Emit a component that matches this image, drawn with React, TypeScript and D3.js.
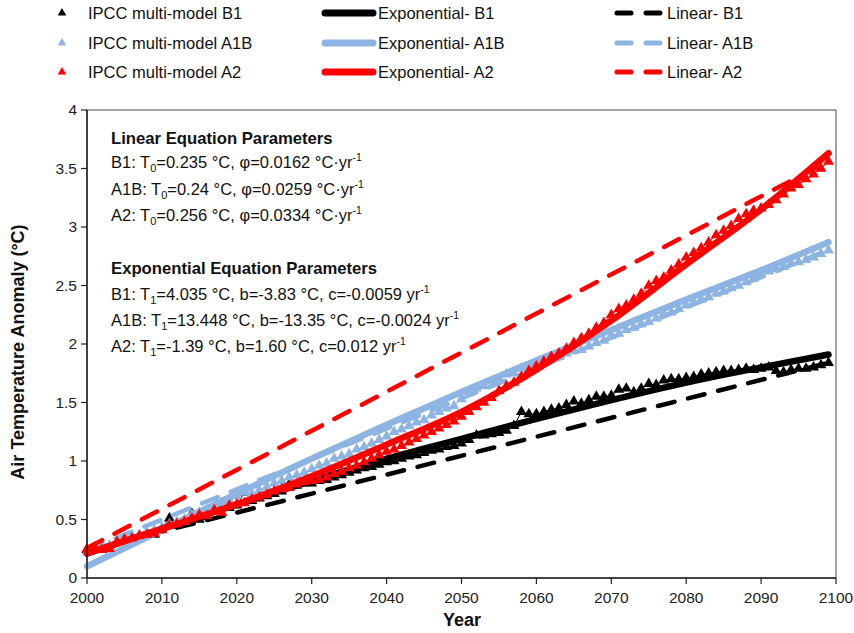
import React from "react";
import * as d3 from "d3";

// yearly multi-model means, 2000-2099
const years = d3.range(2000, 2100);

const b1Obs = [
  0.24, 0.26, 0.25, 0.27, 0.31, 0.34, 0.33, 0.36, 0.38, 0.37,
  0.42, 0.51, 0.45, 0.47, 0.55, 0.50, 0.52, 0.58, 0.64, 0.60,
  0.62, 0.73, 0.66, 0.68, 0.70, 0.72, 0.74, 0.80, 0.79, 0.81,
  0.81, 0.83, 0.84, 0.86, 0.88, 0.90, 0.92, 0.94, 0.95, 0.97,
  0.99, 1.00, 1.02, 1.04, 1.05, 1.07, 1.09, 1.10, 1.12, 1.13,
  1.15, 1.18, 1.22, 1.22, 1.23, 1.24, 1.26, 1.30, 1.42, 1.40,
  1.40, 1.42, 1.44, 1.45, 1.48, 1.51, 1.49, 1.52, 1.55, 1.55,
  1.56, 1.61, 1.62, 1.59, 1.62, 1.66, 1.65, 1.69, 1.70, 1.70,
  1.71, 1.72, 1.74, 1.75, 1.76, 1.77, 1.77, 1.78, 1.79, 1.78,
  1.79, 1.80, 1.77, 1.76, 1.78, 1.79, 1.79, 1.80, 1.82, 1.84,
];

const a1bObs = [
  0.22, 0.24, 0.26, 0.27, 0.30, 0.33, 0.35, 0.37, 0.39, 0.41,
  0.43, 0.46, 0.48, 0.50, 0.54, 0.56, 0.58, 0.62, 0.64, 0.66,
  0.70, 0.73, 0.72, 0.75, 0.78, 0.81, 0.83, 0.86, 0.88, 0.90,
  0.93, 0.96, 0.98, 1.02, 1.04, 1.06, 1.10, 1.12, 1.15, 1.18,
  1.21, 1.25, 1.27, 1.30, 1.33, 1.35, 1.39, 1.42, 1.45, 1.47,
  1.53, 1.58, 1.62, 1.64, 1.68, 1.70, 1.74, 1.75, 1.79, 1.81,
  1.84, 1.85, 1.88, 1.89, 1.92, 1.94, 1.95, 1.98, 2.01, 2.03,
  2.07, 2.09, 2.12, 2.14, 2.17, 2.19, 2.22, 2.26, 2.27, 2.30,
  2.33, 2.36, 2.38, 2.40, 2.43, 2.45, 2.48, 2.50, 2.53, 2.56,
  2.60, 2.62, 2.64, 2.66, 2.69, 2.70, 2.72, 2.74, 2.77, 2.80,
];

const a2Obs = [
  0.25, 0.26, 0.24, 0.25, 0.31, 0.33, 0.34, 0.36, 0.37, 0.38,
  0.41, 0.45, 0.46, 0.48, 0.51, 0.54, 0.53, 0.58, 0.56, 0.62,
  0.63, 0.64, 0.67, 0.69, 0.71, 0.74, 0.76, 0.77, 0.80, 0.82,
  0.83, 0.84, 0.86, 0.89, 0.91, 0.94, 0.96, 0.99, 1.02, 1.05,
  1.08, 1.10, 1.13, 1.16, 1.19, 1.22, 1.25, 1.28, 1.31, 1.34,
  1.38, 1.42, 1.46, 1.50, 1.54, 1.60, 1.64, 1.67, 1.72, 1.77,
  1.81, 1.85, 1.89, 1.92, 1.96, 2.01, 2.05, 2.09, 2.14, 2.18,
  2.25, 2.30, 2.33, 2.38, 2.43, 2.50, 2.54, 2.57, 2.63, 2.68,
  2.74, 2.78, 2.82, 2.87, 2.93, 2.97, 3.01, 3.07, 3.11, 3.14,
  3.16, 3.19, 3.23, 3.28, 3.33, 3.36, 3.41, 3.45, 3.50, 3.56,
];

// fitted curves
const fitYears = [2000, 2010, 2020, 2030, 2040, 2050, 2060, 2070, 2080, 2090, 2099];
const b1Exp = [0.21, 0.42, 0.63, 0.83, 1.02, 1.19, 1.36, 1.52, 1.67, 1.8, 1.91];
const a1bExp = [0.1, 0.41, 0.72, 1.02, 1.31, 1.59, 1.86, 2.12, 2.38, 2.63, 2.87];
const a2Exp = [0.21, 0.42, 0.63, 0.87, 1.14, 1.42, 1.78, 2.2, 2.68, 3.15, 3.63];

const linYears = [2000, 2099];
const b1Lin = [0.235, 1.839];
const a1bLin = [0.24, 2.804];
const a2Lin = [0.256, 3.563];

const xTicks = d3.range(2000, 2101, 10);
const yTicks = [0, 0.5, 1, 1.5, 2, 2.5, 3, 3.5, 4];

const series = [
  {name: "B1", color: "#000000", obs: b1Obs, exp: b1Exp, lin: b1Lin},
  {name: "A1B", color: "#8db4e2", obs: a1bObs, exp: a1bExp, lin: a1bLin},
  {name: "A2", color: "#ff0000", obs: a2Obs, exp: a2Exp, lin: a2Lin},
];

const linearRows = [
  {label: "B1", sub: "0", rest: "=0.235 °C, φ=0.0162 °C·yr"},
  {label: "A1B", sub: "0", rest: "=0.24 °C, φ=0.0259 °C·yr"},
  {label: "A2", sub: "0", rest: "=0.256 °C, φ=0.0334 °C·yr"},
];
const expRows = [
  {label: "B1", sub: "1", rest: "=4.035 °C, b=-3.83 °C, c=-0.0059 yr"},
  {label: "A1B", sub: "1", rest: "=13.448 °C, b=-13.35 °C, c=-0.0024 yr"},
  {label: "A2", sub: "1", rest: "=-1.39 °C, b=1.60 °C, c=0.012 yr"},
];

const W = 854;
const H = 633;
const FONT = "'Liberation Sans', Arial, sans-serif";

const x = d3.scaleLinear().domain([2000, 2100]).range([87, 836]);
const y = d3.scaleLinear().domain([0, 4]).range([578, 110]);

const lineGen = d3.line<[number, number]>().x(d => x(d[0])).y(d => y(d[1]));
const curveGen = d3.line<[number, number]>().x(d => x(d[0])).y(d => y(d[1])).curve(d3.curveMonotoneX);
const tri = d3.symbol().type(d3.symbolTriangle).size(52)();
const triLegend = d3.symbol().type(d3.symbolTriangle).size(32)();

const pairs = (xs: number[], ys: number[]) => xs.map((v, i) => [v, ys[i]] as [number, number]);

const EqRow = ({row, yPos}: {row: any; yPos: number}) => (
  <text x={111} y={yPos} fontSize={16.5} fontFamily={FONT} fill="#111">
    {row.label}: T
    <tspan fontSize={11} dy={4}>{row.sub}</tspan>
    <tspan dy={-4}>{row.rest}</tspan>
    <tspan fontSize={10.5} dy={-7}>-1</tspan>
  </text>
);

export default function App() {
  const legendRows = [13, 43, 72];
  return (
    <svg width={W} height={H} style={{position: "absolute", left: 0, top: 0, background: "#fff"}}>
      {/* legend */}
      {series.map((s, i) => (
        <g key={"leg" + s.name} fontFamily={FONT} fontSize={16.5} fill="#111">
          <path d={triLegend} transform={`translate(62,${legendRows[i]})`} fill={s.color} />
          <text x={88} y={legendRows[i]} dy="0.35em">IPCC multi-model {s.name}</text>
          <line x1={325} x2={373} y1={legendRows[i]} y2={legendRows[i]} stroke={s.color} strokeWidth={7} strokeLinecap="round" />
          <text x={378} y={legendRows[i]} dy="0.35em">Exponential- {s.name}</text>
          <line x1={617} x2={660} y1={legendRows[i]} y2={legendRows[i]} stroke={s.color} strokeWidth={5} strokeLinecap="round" strokeDasharray="14,15" />
          <text x={667} y={legendRows[i]} dy="0.35em">Linear- {s.name}</text>
        </g>
      ))}

      {/* frame */}
      <rect x={87} y={110} width={749} height={468} fill="none" stroke="#666" strokeWidth={1.2} />

      {/* data */}
      {series.map(s => (
        <g key={"ser" + s.name}>
          <path d={lineGen(pairs(linYears, s.lin)) || ""} fill="none" stroke={s.color} strokeWidth={4.5} strokeLinecap="round" strokeDasharray="17,14" />
          <path d={lineGen(pairs(years, s.obs)) || ""} fill="none" stroke={s.color} strokeWidth={1} />
          {s.obs.map((v, i) => (
            <path key={i} d={tri} transform={`translate(${x(years[i])},${y(v)})`} fill={s.color} />
          ))}
          <path d={curveGen(pairs(fitYears, s.exp)) || ""} fill="none" stroke={s.color} strokeWidth={6.5} strokeLinecap="round" />
        </g>
      ))}

      {/* axes */}
      <g fontFamily={FONT} fontSize={15.5} fill="#222">
        <line x1={87} x2={87} y1={110} y2={578} stroke="#222" strokeWidth={1.5} />
        <line x1={87} x2={836} y1={578} y2={578} stroke="#222" strokeWidth={1.5} />
        {yTicks.map(t => (
          <g key={"y" + t}>
            <line x1={81} x2={87} y1={y(t)} y2={y(t)} stroke="#222" strokeWidth={1.2} />
            <text x={77} y={y(t)} dy="0.35em" textAnchor="end">{t}</text>
          </g>
        ))}
        {xTicks.map(t => (
          <g key={"x" + t}>
            <line x1={x(t)} x2={x(t)} y1={578} y2={584} stroke="#222" strokeWidth={1.2} />
            <text x={x(t)} y={598} dy="0.35em" textAnchor="middle">{t}</text>
          </g>
        ))}
        <text x={462} y={620} dy="0.35em" textAnchor="middle" fontWeight="bold" fontSize={18} fill="#111">Year</text>
        <text transform="translate(18,352) rotate(-90)" textAnchor="middle" dy="0.35em" fontWeight="bold" fontSize={18} fill="#111">
          Air Temperature Anomaly (°C)
        </text>
      </g>

      {/* equation parameters */}
      <text x={111} y={138} dy="0.35em" fontSize={16.7} fontWeight="bold" fontFamily={FONT} fill="#111">Linear Equation Parameters</text>
      {linearRows.map((r, i) => <EqRow key={"l" + i} row={r} yPos={168 + i * 26.5} />)}
      <text x={111} y={268} dy="0.35em" fontSize={16.7} fontWeight="bold" fontFamily={FONT} fill="#111">Exponential Equation Parameters</text>
      {expRows.map((r, i) => <EqRow key={"e" + i} row={r} yPos={300 + i * 26} />)}
    </svg>
  );
}
